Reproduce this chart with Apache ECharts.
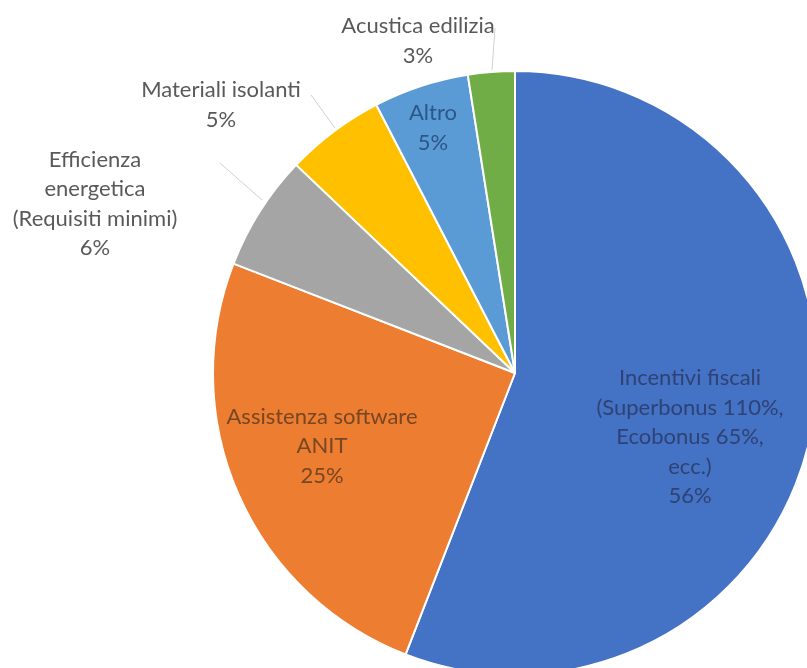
<!DOCTYPE html>
<html><head><meta charset="utf-8">
<script src="https://cdn.jsdelivr.net/npm/echarts@6/dist/echarts.min.js"></script>
<style>html,body{margin:0;padding:0;background:#fff}#c{width:807px;height:668px}</style>
</head><body><div id="c"></div>
<script>
const categories = [
  "Incentivi fiscali\n(Superbonus 110%,\nEcobonus 65%,\necc.)",
  "Assistenza software\nANIT",
  "Efficienza\nenergetica\n(Requisiti minimi)",
  "Materiali isolanti",
  "Altro",
  "Acustica edilizia"
];
const values = [55.9, 25.0, 6.2, 5.3, 5.1, 2.5];
const colors = ["#4472C4", "#ED7D31", "#A5A5A5", "#FFC000", "#5B9BD5", "#70AD47"];

const labelStyle = [
  {position: "inside", color: "#2f4275", x: 690, y: 437},
  {position: "inside", color: "#774622", x: 322, y: 446},
  {position: "outside", color: "#595959", x: 95, y: 204, line: [[220,163],[262,200]]},
  {position: "outside", color: "#595959", x: 221, y: 105, line: [[311,95],[335,128]]},
  {position: "inside", color: "#2d5688", x: 433, y: 128},
  {position: "outside", color: "#595959", x: 418, y: 41, line: [[495,28],[492,70]]}
];

const chart = echarts.init(document.getElementById("c"), null, {renderer: "canvas"});
chart.setOption({
  animation: false,
  series: [{
    type: "pie",
    center: [515, 373],
    radius: 302,
    startAngle: 90,
    clockwise: true,
    avoidLabelOverlap: false,
    itemStyle: {borderColor: "#fff", borderWidth: 2},
    label: {
      fontFamily: "Lato",
      fontSize: 22,
      lineHeight: 29.5,
      align: "center",
      formatter: p => p.name + "\n" + Math.round(p.value) + "%"
    },
    labelLine: {show: true, lineStyle: {color: "#d0d0d0", width: 1}, length: 10, length2: 10},
    labelLayout: function (p) {
      const s = labelStyle[p.dataIndex];
      const r = {x: s.x, y: s.y, align: "center", verticalAlign: "middle"};
      if (s.line) r.labelLinePoints = [s.line[0], s.line[0], s.line[1]];
      return r;
    },
    data: categories.map((c, i) => ({
      name: c,
      value: values[i],
      itemStyle: {color: colors[i]},
      label: {position: labelStyle[i].position, color: labelStyle[i].color},
      labelLine: {show: labelStyle[i].position === "outside"}
    }))
  }]
});
</script></body></html>
